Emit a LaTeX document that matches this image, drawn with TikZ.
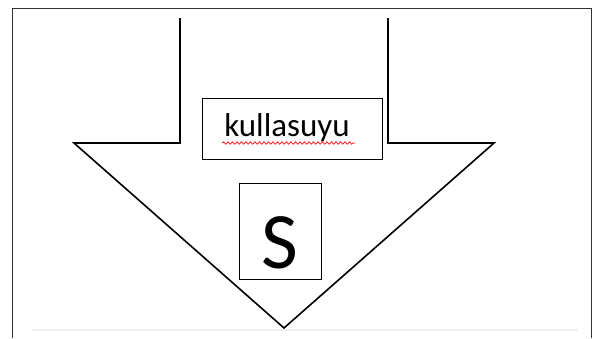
\documentclass[tikz,border=0pt]{standalone}
\usepackage{fontspec}
\setmainfont{Carlito}
\usetikzlibrary{positioning,decorations.pathmorphing}

\begin{document}
\begin{tikzpicture}[x=1pt,y=-1pt,
		labelbox/.style={draw,line width=0.8pt,minimum width=180pt,minimum height=61pt,inner sep=0pt},
		letterbox/.style={draw,line width=0.8pt,minimum width=82pt,minimum height=96pt,inner sep=0pt}]
			
			\useasboundingbox (0,0) rectangle (600,338);
			
			% page frame
			\draw[line width=1pt,black!80] (12,338)--(12,8)--(591,8)--(591,338);
			\draw[black!6,line width=2pt] (32,330)--(578,330);
			
			% arrow
			\draw[line width=1.6pt,line join=miter] (180,18)--(180,143)--(74,143)--(284,328)--(494,143)--(388,143)--(388,18);
			
			\node[labelbox] (name) at (292,128.5) {};
			\node[font=\fontsize{33}{38}\selectfont,anchor=base,inner sep=0pt] (word) at (287,136) {kullasuyu};
			\draw[red,line width=0.7pt,decoration={snake,amplitude=1.2pt,segment length=4.5pt},decorate]
				(222,143) -- (355,143);
			
			\node[letterbox] (sbox) at (280,231) {};
			\node[font=\fontsize{80}{90}\selectfont,anchor=base,inner sep=0pt] (letter) at (280,268) {S};
			
		\end{tikzpicture}
\end{document}
